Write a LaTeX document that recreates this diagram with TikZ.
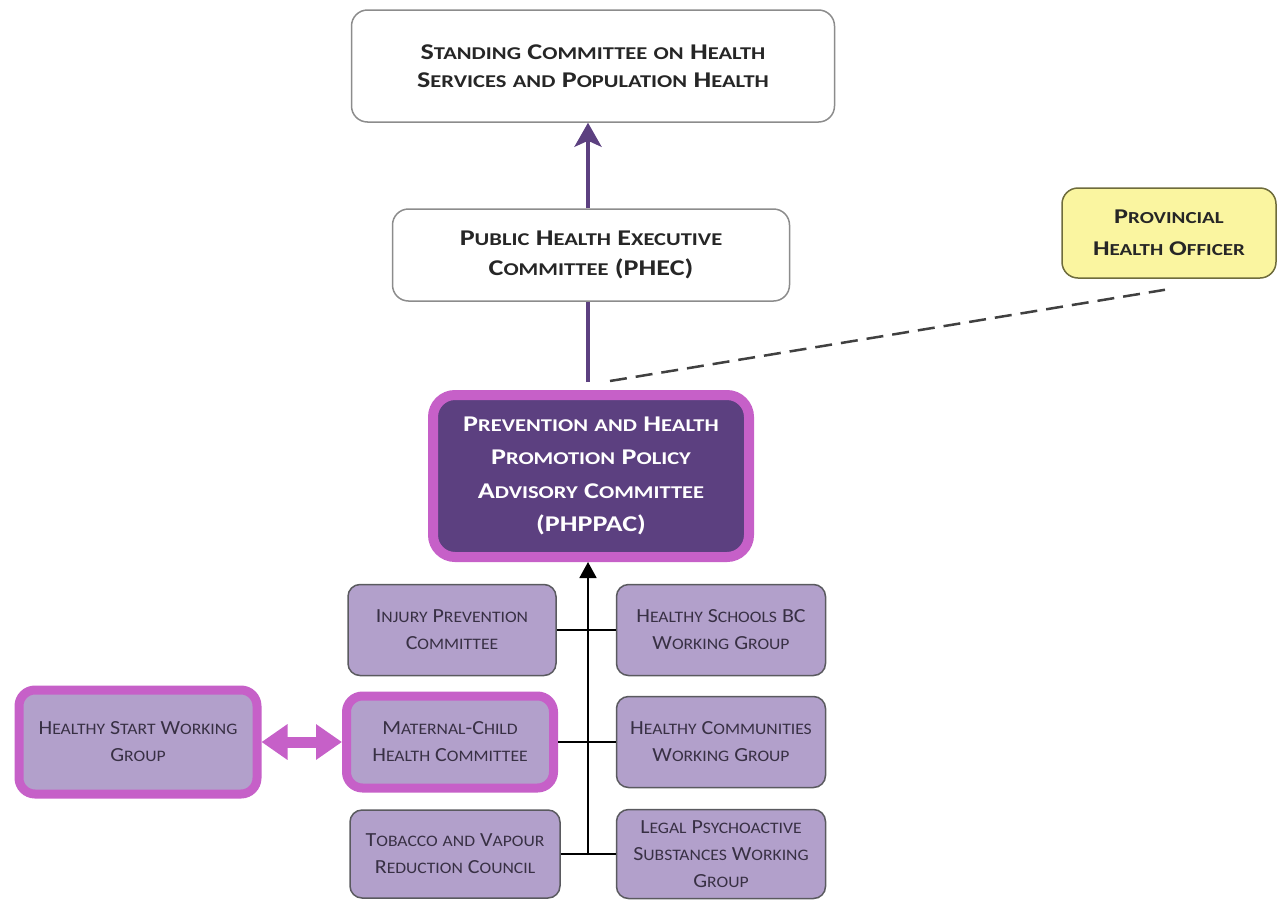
\documentclass[tikz,border=0pt]{standalone}
\usepackage{fontspec}
\setmainfont{Carlito}
\newfontfamily\topfont{Carlito}[FakeStretch=1.25]
\newfontfamily\subfont{Carlito}[FakeStretch=1.1]
\usetikzlibrary{arrows.meta,calc}
\definecolor{phpurple}{RGB}{92,64,128}
\definecolor{phmagenta}{RGB}{198,96,200}
\definecolor{lavender}{RGB}{178,160,203}
\definecolor{subtext}{RGB}{56,48,68}
\definecolor{subgray}{RGB}{90,90,95}
\definecolor{boxgray}{RGB}{140,140,140}
\definecolor{phoyellow}{RGB}{250,245,160}
\definecolor{phoolive}{RGB}{110,108,60}
\newcommand\sw[2]{#1\scalebox{.8}{#2}}

\begin{document}
\begin{tikzpicture}[x=1pt,y=-1pt,>={Triangle[width=17pt,length=16pt]},
  topbox/.style={draw=boxgray,line width=1.5pt,fill=white,rounded corners=16pt,text=black!85,align=center,inner sep=0pt,
    font=\fontsize{22.5}{28}\topfont\bfseries},
  subbox/.style={draw=subgray,line width=1.5pt,fill=lavender,rounded corners=12pt,text=subtext,align=center,inner sep=0pt,
    font=\fontsize{20}{27}\subfont},
  hotbox/.style={subbox,draw=phmagenta,line width=9pt,rounded corners=16pt},
  purpleline/.style={draw=phpurple,line width=4pt},
  dashline/.style={draw=black!75,line width=2.5pt,dash pattern=on 17pt off 9pt}]
\useasboundingbox (0,0) rectangle (1277,900);

\node[topbox,minimum width=483pt,minimum height=112pt] (standing) at (593,66)
  {\sw{S}{TANDING} \sw{C}{OMMITTEE} \sw{}{ON} \sw{H}{EALTH}\\\sw{S}{ERVICES} \sw{}{AND} \sw{P}{OPULATION} \sw{H}{EALTH}};
\node[topbox,minimum width=397pt,minimum height=92pt,font=\fontsize{22.5}{30}\topfont\bfseries] (phec) at (591,255)
  {\sw{P}{UBLIC} \sw{H}{EALTH} \sw{E}{XECUTIVE}\\\sw{C}{OMMITTEE} (PHEC)};
\node[topbox,fill=phoyellow,draw=phoolive,minimum width=214pt,minimum height=90pt,font=\fontsize{21}{32}\topfont\bfseries] (pho) at (1169,233)
  {\sw{P}{ROVINCIAL}\\\sw{H}{EALTH} \sw{O}{FFICER}};
\node[topbox,draw=phmagenta,line width=10pt,fill=phpurple,text=white,rounded corners=22pt,minimum width=316pt,minimum height=162pt,
  font=\fontsize{22.5}{33.5}\topfont\bfseries] (phppac) at (591,476)
  {\sw{P}{REVENTION} \sw{}{AND} \sw{H}{EALTH}\\\sw{P}{ROMOTION} \sw{P}{OLICY}\\\sw{A}{DVISORY} \sw{C}{OMMITTEE}\\(PHPPAC)};

\node[subbox,minimum width=208pt,minimum height=91pt] (injury) at (452,630)
  {\sw{I}{NJURY} \sw{P}{REVENTION}\\\sw{C}{OMMITTEE}};
\node[hotbox,minimum width=207pt,minimum height=92pt] (maternal) at (450,742)
  {\sw{M}{ATERNAL}-\sw{C}{HILD}\\\sw{H}{EALTH} \sw{C}{OMMITTEE}};
\node[subbox,minimum width=210pt,minimum height=88pt] (tobacco) at (455,854)
  {\sw{T}{OBACCO} \sw{}{AND} \sw{V}{APOUR}\\\sw{R}{EDUCTION} \sw{C}{OUNCIL}};
\node[subbox,minimum width=209pt,minimum height=91pt] (schools) at (721,630)
  {\sw{H}{EALTHY} \sw{S}{CHOOLS} BC\\\sw{W}{ORKING} \sw{G}{ROUP}};
\node[subbox,minimum width=209pt,minimum height=91pt] (communities) at (721,742)
  {\sw{H}{EALTHY} \sw{C}{OMMUNITIES}\\\sw{W}{ORKING} \sw{G}{ROUP}};
\node[subbox,minimum width=209pt,minimum height=89pt] (legal) at (721,854)
  {\sw{L}{EGAL} \sw{P}{SYCHOACTIVE}\\\sw{S}{UBSTANCES} \sw{W}{ORKING}\\\sw{G}{ROUP}};
\node[hotbox,minimum width=238pt,minimum height=104pt] (hstart) at (138,742)
  {\sw{H}{EALTHY} \sw{S}{TART} \sw{W}{ORKING}\\\sw{G}{ROUP}};

\coordinate (spine) at (588,0);
\coordinate (trunk) at (588,855);
\coordinate (dashfrom) at (610,381);
\draw[purpleline,-{Stealth[width=27pt,length=24pt,inset=6pt]}] (spine |- phec.north) -- (spine |- standing.south);
\draw[purpleline,shorten <=8pt] (spine |- phppac.north) -- (spine |- phec.south);
\draw[dashline] (dashfrom) -- ([shift={(-4,11)}]pho.south);
\draw[line width=1.8pt,->] (trunk) -- (trunk |- phppac.south);
\draw[line width=1.8pt] (injury) -- (schools);
\draw[line width=1.8pt] (maternal) -- (communities);
\draw[line width=1.8pt] (tobacco) -- (legal);
\draw[phmagenta,line width=11pt,{Triangle[width=34pt,length=26pt]}-{Triangle[width=34pt,length=26pt]}] (hstart) -- (maternal);
\end{tikzpicture}
\end{document}
